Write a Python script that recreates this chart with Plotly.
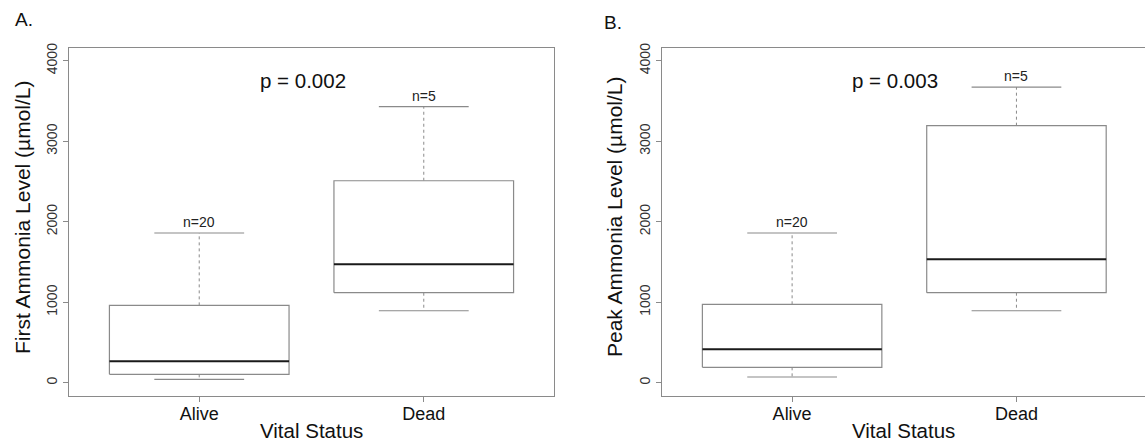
import plotly.graph_objects as go

# ---- data ----
categories = ["Alive", "Dead"]
n_counts = [20, 5]

first_lower = [42, 894]
first_q1 = [104, 1118]
first_median = [266, 1471]
first_q3 = [961, 2509]
first_upper = [1860, 3429]

peak_lower = [71, 894]
peak_q1 = [191, 1118]
peak_median = [415, 1533]
peak_q3 = [974, 3193]
peak_upper = [1860, 3673]

p_values = ["0.002", "0.003"]
panel_labels = ["A.", "B."]
y_titles = ["First Ammonia Level (µmol/L)", "Peak Ammonia Level (µmol/L)"]
x_title = "Vital Status"
y_ticks = [0, 1000, 2000, 3000, 4000]

FONT = "Liberation Sans, Arial, Helvetica, sans-serif"
GRAY = "#8a8a8a"
W, H = 1145, 445
ML, MT, MB = 0, 48, 49

fig = go.Figure()

panels = [
    dict(lower=first_lower, q1=first_q1, med=first_median, q3=first_q3, upper=first_upper,
         xa="x", ya="y", domain=[69 / W, 554 / W], xrange=[0.42, 2.58]),
    dict(lower=peak_lower, q1=peak_q1, med=peak_median, q3=peak_q3, upper=peak_upper,
         xa="x2", ya="y2", domain=[662 / W, 1.0], xrange=[0.42, 2.573]),
]

half_box = 0.4
half_cap = 0.2

for pi, p in enumerate(panels):
    for i, cat in enumerate(categories):
        c = i + 1
        # whiskers (dashed)
        fig.add_trace(go.Scatter(
            x=[c, c, None, c, c], y=[p["q3"][i], p["upper"][i], None, p["q1"][i], p["lower"][i]],
            mode="lines", line=dict(color=GRAY, width=1, dash="dot"),
            xaxis=p["xa"], yaxis=p["ya"], showlegend=False, hoverinfo="skip"))
        # caps
        fig.add_trace(go.Scatter(
            x=[c - half_cap, c + half_cap, None, c - half_cap, c + half_cap],
            y=[p["upper"][i], p["upper"][i], None, p["lower"][i], p["lower"][i]],
            mode="lines", line=dict(color=GRAY, width=1.2),
            xaxis=p["xa"], yaxis=p["ya"], showlegend=False, hoverinfo="skip"))
        # box
        fig.add_trace(go.Scatter(
            x=[c - half_box, c + half_box, c + half_box, c - half_box, c - half_box],
            y=[p["q1"][i], p["q1"][i], p["q3"][i], p["q3"][i], p["q1"][i]],
            mode="lines", fill="toself", fillcolor="white",
            line=dict(color=GRAY, width=1.2),
            xaxis=p["xa"], yaxis=p["ya"], showlegend=False, hoverinfo="skip", name=cat))
        # median
        fig.add_trace(go.Scatter(
            x=[c - half_box, c + half_box], y=[p["med"][i], p["med"][i]],
            mode="lines", line=dict(color="#1a1a1a", width=2),
            xaxis=p["xa"], yaxis=p["ya"], showlegend=False, hoverinfo="skip"))
        # n labels
        fig.add_annotation(
            x=c, y=p["upper"][i], xref=p["xa"], yref=p["ya"], text=f"n={n_counts[i]}",
            showarrow=False, xanchor="center", yanchor="bottom", yshift=1,
            font=dict(family=FONT, size=14, color="#222"))
    # p-value
    fig.add_annotation(
        x=1.46, y=3760, xref=p["xa"], yref=p["ya"], text=f"p = {p_values[pi]}",
        showarrow=False, xanchor="center", yanchor="middle",
        font=dict(family=FONT, size=20.5, color="#111"))

axis_common = dict(showgrid=False, zeroline=False, showline=True, linecolor=GRAY, linewidth=1.2,
                   ticks="outside", tickcolor=GRAY, ticklen=5, tickwidth=1)

fig.update_layout(
    width=W, height=H,
    margin=dict(l=ML, r=0, t=MT, b=MB, autoexpand=False),
    plot_bgcolor="white", paper_bgcolor="white",
    showlegend=False,
    xaxis=dict(domain=panels[0]["domain"], range=panels[0]["xrange"], tickvals=[1, 2], ticktext=categories,
               mirror=True, anchor="y", ticklabelstandoff=-4,
               tickfont=dict(family=FONT, size=18, color="#111"), **axis_common),
    yaxis=dict(domain=[0, 1], range=[-165, 4158], tickvals=y_ticks, tickangle=-90, mirror=True, anchor="x",
               tickfont=dict(family=FONT, size=14, color="#333"), **axis_common),
    xaxis2=dict(domain=panels[1]["domain"], range=panels[1]["xrange"], tickvals=[1, 2], ticktext=categories,
                mirror=True, anchor="y2", ticklabelstandoff=-4,
                tickfont=dict(family=FONT, size=18, color="#111"), **axis_common),
    yaxis2=dict(domain=[0, 1], range=[-165, 4158], tickvals=y_ticks, tickangle=-90, mirror=False, anchor="x2",
                tickfont=dict(family=FONT, size=14, color="#333"), **axis_common),
)

# axis titles and panel labels (paper coordinates)
def py(pix):
    return (H - MB - pix) / (H - MT - MB)

title_x_pix = [22, 614]
xlabel_x_pix = [311, 903]
label_x_pix = [24, 613]
label_y_pix = [20, 22]
for k in range(2):
    fig.add_annotation(x=title_x_pix[k] / W, y=py(217), xref="paper", yref="paper",
                       text=y_titles[k], textangle=-90, showarrow=False,
                       xanchor="center", yanchor="middle",
                       font=dict(family=FONT, size=21, color="#111"))
    fig.add_annotation(x=xlabel_x_pix[k] / W, y=py(430), xref="paper", yref="paper",
                       text=x_title, showarrow=False, xanchor="center", yanchor="middle",
                       font=dict(family=FONT, size=20.5, color="#111"))
    fig.add_annotation(x=label_x_pix[k] / W, y=py(label_y_pix[k]), xref="paper", yref="paper",
                       text=panel_labels[k], showarrow=False, xanchor="center", yanchor="middle",
                       font=dict(family=FONT, size=19, color="#111"))

fig.write_html(
    "out.html",
    config={"displayModeBar": False},
    post_script="document.body.style.margin='0';document.body.style.padding='0';"
                "document.body.style.overflow='hidden';",
)
